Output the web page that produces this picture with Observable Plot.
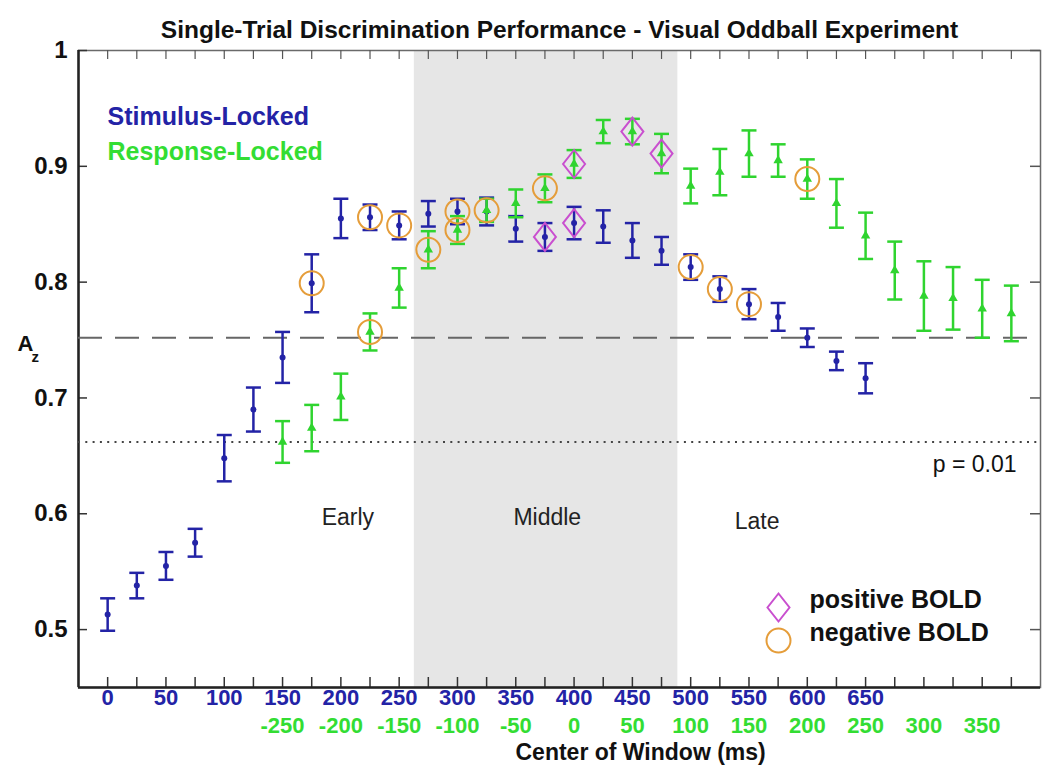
<!DOCTYPE html>
<html>
<head>
<meta charset="utf-8">
<script src="https://cdn.jsdelivr.net/npm/d3@7"></script>
<script src="https://cdn.jsdelivr.net/npm/@observablehq/plot@0.6"></script>
<style>
  html, body { margin: 0; padding: 0; background: #fff; }
  #chart svg { display: block; }
</style>
</head>
<body>
<div id="chart"></div>
<script>
// ---------- data ----------
const titleText = "Single-Trial Discrimination Performance - Visual Oddball Experiment";

// Stimulus-locked windows (ms after stimulus)
const stimTime = [0,25,50,75,100,125,150,175,200,225,250,275,300,325,350,375,400,425,450,475,500,525,550,575,600,625,650];
const stimAz   = [0.513,0.538,0.555,0.575,0.648,0.690,0.735,0.799,0.855,0.856,0.849,0.859,0.861,0.861,0.846,0.839,0.851,0.848,0.836,0.827,0.813,0.794,0.781,0.770,0.752,0.732,0.717];
const stimErr  = [0.014,0.011,0.012,0.012,0.020,0.019,0.022,0.025,0.017,0.011,0.012,0.011,0.011,0.012,0.011,0.012,0.014,0.014,0.015,0.012,0.011,0.011,0.013,0.012,0.008,0.008,0.013];

// Response-locked windows (ms relative to response)
const respTime = [-250,-225,-200,-175,-150,-125,-100,-75,-50,-25,0,25,50,75,100,125,150,175,200,225,250,275,300,325,350,375];
const respAz   = [0.662,0.674,0.701,0.757,0.795,0.828,0.845,0.862,0.868,0.881,0.902,0.930,0.930,0.911,0.883,0.895,0.911,0.905,0.889,0.868,0.840,0.810,0.788,0.786,0.777,0.773];
const respErr  = [0.018,0.020,0.020,0.016,0.017,0.016,0.012,0.010,0.012,0.012,0.012,0.010,0.011,0.017,0.015,0.020,0.020,0.014,0.017,0.021,0.020,0.025,0.030,0.027,0.025,0.024];
const respOffset = 400; // response time 0 sits at stimulus time 400

// BOLD correlates
const posBoldStim = [375,400];
const posBoldResp = [0,50,75];
const negBoldStim = [175,225,250,300,500,525,550];
const negBoldResp = [-175,-125,-100,-75,-25,200];

// reference lines
const chanceLine = [0.752];     // dashed
const pLine = [0.662];          // dotted, p = 0.01

// windows
const windows = [{start: 263, end: 489}];   // shaded "Middle"
const windowLabels = [
  {label: "Early", t: 206, az: 0.597},
  {label: "Middle", t: 377, az: 0.597},
  {label: "Late", t: 557, az: 0.593}
];

// ticks
const stimTicks = [0,50,100,150,200,250,300,350,400,450,500,550,600,650];
const respTicks = [-250,-200,-150,-100,-50,0,50,100,150,200,250,300,350];
const minorTicks = d3.range(0, 776, 25);
const yTicks = [0.5,0.6,0.7,0.8,0.9,1];

// ---------- styling ----------
const blue = "#2323a6";
const green = "#2fd42f";
const greenText = "#33dd33";
const orange = "#e59d3a";
const magenta = "#c94fcf";
const W = 1050, H = 773;
const mL = 78, mR = 10, mT = 50, mB = 86;
const pw = W - mL - mR, ph = H - mT - mB;
const xDomain = [-25, 800], yDomain = [0.45, 1];

const stim = stimTime.map((t, i) => ({t, az: stimAz[i], lo: stimAz[i] - stimErr[i], hi: stimAz[i] + stimErr[i]}));
const resp = respTime.map((t, i) => ({t: t + respOffset, az: respAz[i], lo: respAz[i] - respErr[i], hi: respAz[i] + respErr[i]}));
const stimAt = t => stim[stimTime.indexOf(t)];
const respAt = t => resp[respTime.indexOf(t)];
const posBold = [...posBoldStim.map(stimAt), ...posBoldResp.map(respAt)];
const negBold = [...negBoldStim.map(stimAt), ...negBoldResp.map(respAt)];

const capSymbol = {draw(ctx) { ctx.moveTo(-7.5, 0); ctx.lineTo(7.5, 0); }};
const diamondSymbol = {draw(ctx) { ctx.moveTo(0, -14); ctx.lineTo(11, 0); ctx.lineTo(0, 14); ctx.lineTo(-11, 0); ctx.closePath(); }};

function errorMarks(data, color, marker, r) {
  return [
    Plot.ruleX(data, {x: "t", y1: "lo", y2: "hi", stroke: color, strokeWidth: 2.5}),
    Plot.dot(data, {x: "t", y: "lo", symbol: capSymbol, stroke: color, strokeWidth: 2.5}),
    Plot.dot(data, {x: "t", y: "hi", symbol: capSymbol, stroke: color, strokeWidth: 2.5}),
    Plot.dot(data, {x: "t", y: "az", symbol: marker, r, fill: color, stroke: "none"})
  ];
}

const chart = Plot.plot({
  width: W, height: H,
  marginLeft: mL, marginRight: mR, marginTop: mT, marginBottom: mB,
  x: {domain: xDomain, axis: null},
  y: {domain: yDomain, axis: null},
  style: {fontFamily: "'Liberation Sans', Arial, Helvetica, sans-serif", background: "#fff", color: "#111"},
  marks: [
    Plot.rect(windows, {x1: "start", x2: "end", fill: "#e6e6e6"}),
    // frame (top/right light, left/bottom dark)
    Plot.frame({stroke: "#6a6a6a", strokeWidth: 1.5}),
    // inward ticks
    Plot.tickX(minorTicks, {x: d => d, insetBottom: ph - 9, stroke: "#555", strokeWidth: 1.2}),
    Plot.tickX(minorTicks, {x: d => d, insetTop: ph - 10, stroke: "#333", strokeWidth: 1.5}),
    Plot.tickY(yTicks, {y: d => d, insetRight: pw - 9, stroke: "#333", strokeWidth: 1.5}),
    Plot.tickY(yTicks, {y: d => d, insetLeft: pw - 10, stroke: "#555", strokeWidth: 1.5}),
    Plot.ruleX([xDomain[0]], {stroke: "#222", strokeWidth: 2.5}),
    Plot.ruleY([yDomain[0]], {stroke: "#222", strokeWidth: 2.5}),
    // reference lines
    Plot.ruleY(chanceLine, {stroke: "#666", strokeWidth: 2, strokeDasharray: "24,13"}),
    Plot.ruleY(pLine, {stroke: "#444", strokeWidth: 2, strokeDasharray: "2,5.3"}),
    Plot.text(pLine, {y: d => d, text: () => "p = 0.01", frameAnchor: "right", textAnchor: "end", dx: -24, dy: 23, fontSize: 23}),
    // window labels
    Plot.text(windowLabels, {x: "t", y: "az", text: "label", fontSize: 23, fill: "#222"}),
    // data
    ...errorMarks(stim, blue, "circle", 3),
    ...errorMarks(resp, green, "triangle", 3.5),
    Plot.dot(negBold, {x: "t", y: "az", r: 12, stroke: orange, strokeWidth: 2, fill: "none"}),
    Plot.dot(posBold, {x: "t", y: "az", symbol: diamondSymbol, stroke: magenta, strokeWidth: 2, fill: "none"}),
    // axes
    Plot.axisY({ticks: yTicks, tickSize: 0, tickPadding: 11, tickFormat: d => String(d), fontSize: 24, fontWeight: "bold", label: null, color: "#111"}),
    Plot.text(stimTicks, {x: d => d, text: d => String(d), frameAnchor: "bottom", dy: 17, fontSize: 22, fontWeight: "bold", fill: blue}),
    Plot.text(respTicks, {x: d => d + respOffset, text: d => String(d), frameAnchor: "bottom", dy: 45, fontSize: 22, fontWeight: "bold", fill: greenText}),
    Plot.text(["Center of Window (ms)"], {frameAnchor: "bottom-left", dx: 437, dy: 72, fontSize: 23, fontWeight: "bold", fill: "#111"}),
    Plot.text(["A"], {frameAnchor: "left", dx: -61, dy: -25, fontSize: 22, fontWeight: "bold", fill: "#111"}),
    Plot.text(["z"], {frameAnchor: "left", dx: -47, dy: -12, fontSize: 15, fontWeight: "bold", fill: "#111"}),
    // title
    Plot.text([titleText], {frameAnchor: "top", dy: -30, fontSize: 24.5, fontWeight: "bold", fill: "#111"}),
    // series labels
    Plot.text(["Stimulus-Locked"], {frameAnchor: "top-left", dx: 29, dy: 57, textAnchor: "start", fontSize: 25, fontWeight: "bold", fill: blue}),
    Plot.text(["Response-Locked"], {frameAnchor: "top-left", dx: 29, dy: 92, textAnchor: "start", fontSize: 25, fontWeight: "bold", fill: greenText}),
    // BOLD legend
    Plot.dot([0], {frameAnchor: "bottom-left", dx: 700, dy: -80, symbol: diamondSymbol, stroke: magenta, strokeWidth: 2, fill: "none"}),
    Plot.dot([0], {frameAnchor: "bottom-left", dx: 700, dy: -47, r: 12, stroke: orange, strokeWidth: 2, fill: "none"}),
    Plot.text(["positive BOLD"], {frameAnchor: "bottom-left", dx: 731, dy: -80, textAnchor: "start", fontSize: 25, fontWeight: "bold", fill: "#111"}),
    Plot.text(["negative BOLD"], {frameAnchor: "bottom-left", dx: 731, dy: -47, textAnchor: "start", fontSize: 25, fontWeight: "bold", fill: "#111"})
  ]
});
document.getElementById("chart").appendChild(chart);
</script>
</body>
</html>
